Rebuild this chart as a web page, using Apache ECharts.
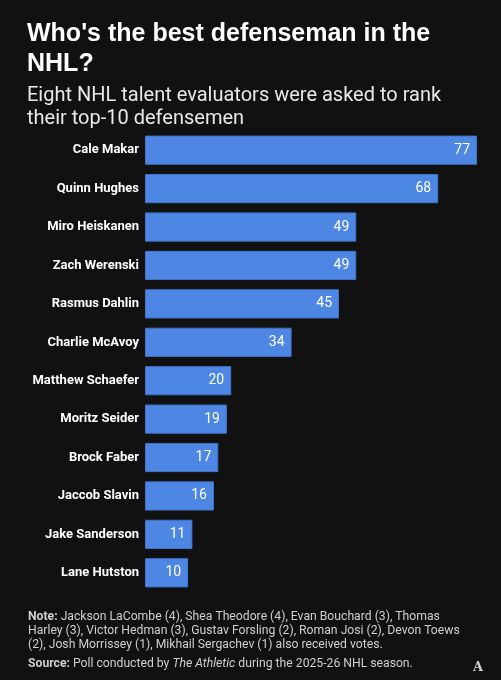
<!DOCTYPE html>
<html>
<head>
<meta charset="utf-8">
<script src="https://cdn.jsdelivr.net/npm/echarts@6/dist/echarts.min.js"></script>
<style>
  html, body { margin: 0; padding: 0; background: #111111; }
  #chart { width: 501px; height: 680px; }
</style>
</head>
<body>
<div id="chart"></div>
<script>
// players, top to bottom
const players = [
    'Cale Makar', 'Quinn Hughes', 'Miro Heiskanen', 'Zach Werenski',
    'Rasmus Dahlin', 'Charlie McAvoy', 'Matthew Schaefer', 'Moritz Seider',
    'Brock Faber', 'Jaccob Slavin', 'Jake Sanderson', 'Lane Hutston'
]
// points in the poll
const points = [77, 68, 49, 49, 45, 34, 20, 19, 17, 16, 11, 10]

const titleText = "Who's the best defenseman in the\nNHL?"
const subText = 'Eight NHL talent evaluators were asked to rank\ntheir top-10 defensemen'
const noteText = 'Jackson LaCombe (4), Shea Theodore (4), Evan Bouchard (3), Thomas\n' +
    'Harley (3), Victor Hedman (3), Gustav Forsling (2), Roman Josi (2), Devon Toews\n' +
    '(2), Josh Morrissey (1), Mikhail Sergachev (1) also received votes.'

const font = 'Roboto, "Noto Sans", sans-serif'
const titleFont = '"Liberation Sans", Arial, sans-serif'
const barColor = '#4e87e3'

let chart = echarts.init(document.getElementById('chart'))

chart.setOption({
    backgroundColor: '#111111',
    animation: false,
    textStyle: { fontFamily: font },
    title: [{
        text: titleText,
        left: 22,
        top: 14,
        textStyle: {
            color: '#ffffff',
            fontSize: 25,
            fontWeight: 'bold',
            lineHeight: 30,
            fontFamily: titleFont
        }
    }, {
        text: subText,
        left: 22,
        top: 80,
        textStyle: {
            color: '#e8e8e8',
            fontSize: 20,
            fontWeight: 'normal',
            lineHeight: 22.5,
            fontFamily: font
        }
    }, {
        text: '{b|Note:} ' + noteText,
        left: 23,
        top: 605,
        textStyle: {
            color: '#cfcfcf',
            fontSize: 12.2,
            fontWeight: 'normal',
            lineHeight: 14,
            fontFamily: font,
            rich: {
                b: { fontWeight: 'bold', fontSize: 12.2, color: '#cfcfcf', fontFamily: font }
            }
        }
    }, {
        text: '{b|Source:} Poll conducted by {i|The Athletic} during the 2025-26 NHL season.',
        left: 23,
        top: 653,
        textStyle: {
            color: '#cfcfcf',
            fontSize: 12.2,
            fontWeight: 'normal',
            fontFamily: font,
            rich: {
                b: { fontWeight: 'bold', fontSize: 12.2, color: '#cfcfcf', fontFamily: font },
                i: { fontStyle: 'italic', fontSize: 12.2, color: '#cfcfcf', fontFamily: font }
            }
        }
    }, {
        text: 'A',
        left: 468,
        top: 656,
        textStyle: {
            color: '#cfcfcf',
            fontSize: 13,
            fontWeight: 'bold',
            fontFamily: '"DejaVu Serif", serif'
        }
    }],
    grid: {
        left: 145,
        right: 24,
        top: 131,
        bottom: 88,
        containLabel: false
    },
    xAxis: {
        type: 'value',
        min: 0,
        max: 77,
        show: false
    },
    yAxis: {
        type: 'category',
        inverse: true,
        data: players,
        axisLine: { show: false },
        axisTick: { show: false },
        splitLine: { show: false },
        axisLabel: {
            color: '#ffffff',
            fontSize: 13,
            fontWeight: 'bold',
            fontFamily: font,
            margin: 6
        }
    },
    series: [{
        type: 'bar',
        data: points,
        barCategoryGap: '24%',
        itemStyle: {
            color: barColor,
            borderColor: '#3f74c9',
            borderWidth: 1
        },
        label: {
            show: true,
            position: 'insideRight',
            distance: 7,
            color: '#ffffff',
            fontSize: 14,
            fontFamily: font
        }
    }]
})
</script>
</body>
</html>
